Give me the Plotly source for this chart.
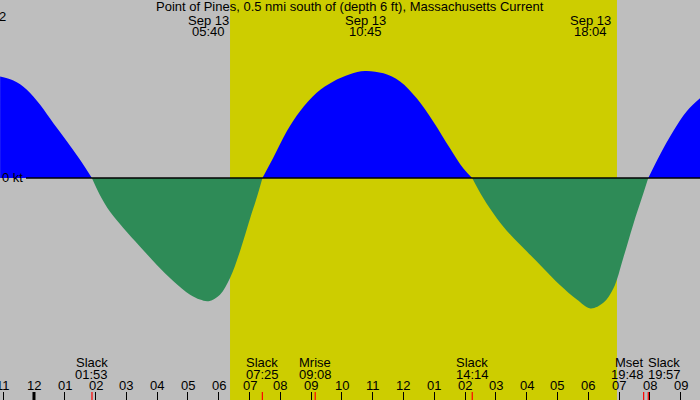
import plotly.graph_objects as go

# Point of Pines current, Sep 13 (hours after midnight, knots)
hours = [-1.10, -0.67, -0.24, 0.20, 0.63, 1.06, 1.49, 1.88,
         2.14, 2.47, 2.90, 3.44, 3.99, 4.52, 5.07, 5.39, 5.67, 6.04, 6.37, 6.69, 7.02, 7.23, 7.42,
         7.77, 8.21, 8.64, 9.18, 9.72, 10.26, 10.75, 11.35, 11.89, 12.43, 12.97, 13.51, 13.94, 14.23,
         14.59, 15.03, 15.46, 16.00, 16.54, 17.08, 17.63, 18.07, 18.49, 18.82, 19.14, 19.46, 19.74, 19.95,
         20.33, 20.76, 21.20, 21.63]
speeds = [1.26, 1.21, 1.10, 0.91, 0.68, 0.46, 0.23, 0,
          -0.21, -0.42, -0.62, -0.85, -1.08, -1.28, -1.45, -1.51, -1.53, -1.45, -1.24, -0.91, -0.50, -0.25, 0,
          0.25, 0.58, 0.83, 1.06, 1.20, 1.29, 1.33, 1.30, 1.20, 0.99, 0.70, 0.37, 0.12, 0,
          -0.25, -0.50, -0.70, -0.91, -1.12, -1.33, -1.51, -1.62, -1.55, -1.37, -0.99, -0.58, -0.25, 0,
          0.29, 0.58, 0.83, 0.99]

# max current times (top labels)
max_times = ["05:40", "10:45", "18:04"]
max_date = "Sep 13"

# bottom events
event_names = ["Slack", "Slack", "Mrise", "Slack", "Mset", "Slack"]
event_times = ["01:53", "07:25", "09:08", "14:14", "19:48", "19:57"]

sunrise = "06:22"
sunset = "18:56"

hour_ticks = list(range(-1, 22))
hour_labels = ["11", "12", "01", "02", "03", "04", "05", "06", "07", "08", "09", "10",
               "11", "12", "01", "02", "03", "04", "05", "06", "07", "08", "09"]

title = "Point of Pines, 0.5 nmi south of (depth 6 ft), Massachusetts Current"

def to_h(s):
    hh, mm = s.split(":")
    return int(hh) + int(mm) / 60.0

FONT = dict(family="Liberation Sans, Arial, sans-serif", size=13, color="black")
H = 400.0
def py(px):  # pixel from top -> paper y
    return 1 - px / H

fig = go.Figure()

# split the curve into flood / ebb lobes at the zero points
lobes = []
cur_x, cur_y = [], []
for x, y in zip(hours, speeds):
    cur_x.append(x)
    cur_y.append(y)
    if y == 0 and len(cur_x) > 1:
        lobes.append((cur_x, cur_y))
        cur_x, cur_y = [x], [y]
if len(cur_x) > 1:
    lobes.append((cur_x, cur_y))

for lx, ly in lobes:
    flood = max(ly) > 0
    fig.add_trace(go.Scatter(
        x=lx, y=ly, mode="lines", line=dict(width=0, shape="spline", smoothing=1.0),
        fill="tozeroy", fillcolor="#0000ff" if flood else "#2e8b57",
        hoverinfo="skip", showlegend=False))

shapes = []
# daylight
shapes.append(dict(type="rect", xref="x", yref="paper", x0=to_h(sunrise), x1=to_h(sunset),
                   y0=0, y1=1, fillcolor="#cdcd00", line=dict(width=0), layer="below"))
# zero line
shapes.append(dict(type="line", xref="x", yref="y", x0=-0.26, x1=21.63, y0=0, y1=0,
                   line=dict(color="black", width=1.5)))
# event ticks
for t in event_times:
    shapes.append(dict(type="line", xref="x", yref="paper", x0=to_h(t), x1=to_h(t),
                       y0=0, y1=py(392), line=dict(color="red", width=1.2)))
# midnight tick
shapes.append(dict(type="line", xref="x", yref="paper", x0=0, x1=0, y0=0, y1=py(392),
                   line=dict(color="black", width=3)))

ann = []
ann.append(dict(text=title, x=0.5, y=py(7), xref="paper", yref="paper",
                showarrow=False, font=FONT, yanchor="middle"))
for t in max_times:
    ann.append(dict(text=max_date, x=to_h(t), y=py(20), xref="x", yref="paper",
                    showarrow=False, font=FONT, yanchor="middle"))
    ann.append(dict(text=t, x=to_h(t), y=py(32), xref="x", yref="paper",
                    showarrow=False, font=FONT, yanchor="middle"))
for i, (n, t) in enumerate(zip(event_names, event_times)):
    anchor, shift = "center", 0
    if i + 1 < len(event_times) and to_h(event_times[i + 1]) - to_h(t) < 1:
        anchor, shift = "right", 2
    elif i > 0 and to_h(t) - to_h(event_times[i - 1]) < 1:
        anchor, shift = "left", -2
    for txt, ypx in ((n, 362), (t, 374)):
        ann.append(dict(text=txt, x=to_h(t), y=py(ypx), xref="x", yref="paper",
                        showarrow=False, font=FONT, xanchor=anchor, yanchor="middle",
                        xshift=shift))
for h, lab in zip(hour_ticks, hour_labels):
    ann.append(dict(text=lab, x=h, y=py(385), xref="x", yref="paper",
                    showarrow=False, font=FONT, yanchor="middle"))
# y labels
ann.append(dict(text="2", x=0, y=2, xref="paper", yref="y", xanchor="left",
                showarrow=False, font=FONT, yanchor="middle", xshift=-3))
ann.append(dict(text="0 kt", x=0, y=0, xref="paper", yref="y", xanchor="left",
                showarrow=False, font=FONT, yanchor="middle"))

fig.update_layout(
    width=700, height=400,
    margin=dict(l=0, r=0, t=0, b=0),
    paper_bgcolor="#bebebe", plot_bgcolor="#bebebe",
    shapes=shapes, annotations=ann,
    xaxis=dict(range=[-1.104, 21.63], tickvals=hour_ticks, ticks="inside", ticklen=8,
               tickcolor="black", tickwidth=1, showticklabels=False,
               showgrid=False, zeroline=False, showline=False),
    yaxis=dict(range=[-2.758, 2.211], showticklabels=False, showgrid=False,
               zeroline=False, showline=False, ticks=""),
)

# drop the page margin so the 700x400 figure fills the window
fig.write_html("out.html", config={"displayModeBar": False},
               post_script="document.body.style.margin='0';")
